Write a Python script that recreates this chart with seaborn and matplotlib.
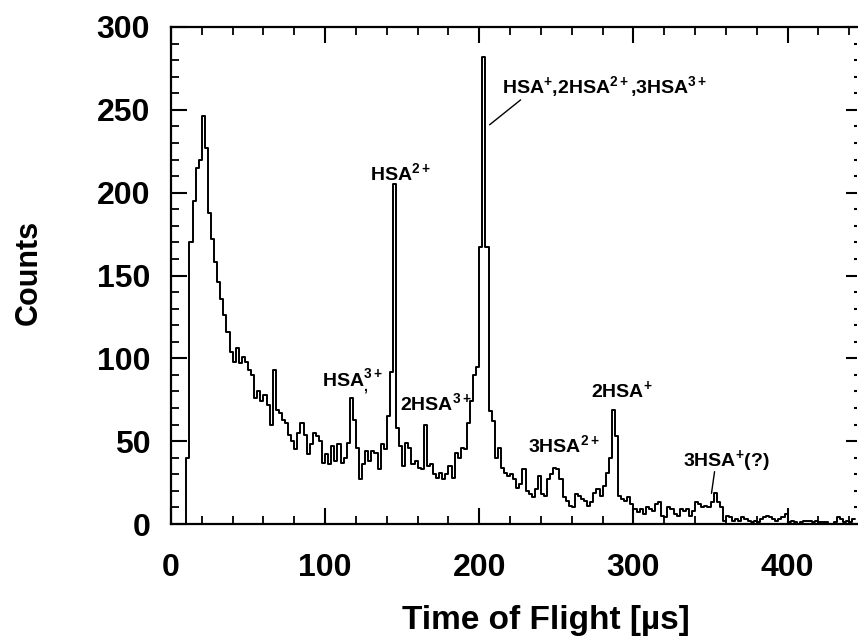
import numpy as np
import pandas as pd
import matplotlib
matplotlib.use("Agg")
import matplotlib.pyplot as plt
import seaborn as sns
from matplotlib.ticker import MultipleLocator

# ---------------- data ----------------
tof_start = 0.0      # µs, left edge of first bin
bin_width = 2.0      # µs
counts = [
    0, 0, 0, 0, 0, 40, 170, 195, 215, 220,          # 0-20
    246, 227, 188, 172, 158, 146, 136, 126, 116, 104,  # 20-40
    98, 106, 97, 101, 98, 93, 90, 76, 80, 74,       # 40-60
    78, 72, 60, 93, 69, 67, 63, 61, 54, 50,         # 60-80
    45, 55, 61, 54, 42, 48, 55, 53, 50, 37,         # 80-100
    42, 36, 47, 38, 48, 37, 40, 49, 76, 63,         # 100-120
    46, 27, 36, 44, 38, 44, 43, 33, 48, 45,         # 120-140
    65, 92, 205, 58, 47, 35, 49, 46, 36, 38,        # 140-160
    34, 33, 60, 35, 36, 30, 28, 31, 27, 30,         # 160-180
    35, 28, 43, 40, 46, 45, 61, 74, 90, 95,         # 180-200
    167, 282, 167, 68, 62, 40, 46, 34, 31, 29,      # 200-220
    30, 27, 22, 24, 33, 20, 18, 16, 21, 29,         # 220-240
    18, 17, 27, 30, 34, 33, 27, 16, 14, 11,         # 240-260
    10, 18, 17, 15, 14, 11, 13, 19, 21, 17,         # 260-280
    23, 31, 40, 69, 53, 17, 15, 14, 16, 12,         # 280-300
    9, 7, 9, 6, 10, 9, 8, 12, 13, 5,                # 300-320
    4, 10, 9, 6, 5, 9, 8, 9, 5, 8,                  # 320-340
    13, 12, 10, 11, 10, 13, 19, 13, 10, 2,          # 340-360
    5, 4, 2, 3, 2, 4, 3, 2, 1, 2,                   # 360-380
    1, 3, 4, 5, 4, 3, 2, 3, 4, 6,                   # 380-400
    1, 2, 1, 0, 1, 2, 2, 2, 1, 2,                   # 400-420
    1, 1, 1, 0, 0, 1, 4, 3, 1, 2,                   # 420-440
    1, 3,                                           # 440-444
]
x_ticks = [0, 100, 200, 300, 400]
y_ticks = [0, 50, 100, 150, 200, 250, 300]
x_label = "Time of Flight [µs]"
y_label = "Counts"

peak_labels = [
    r"$HSA^{2+}$",
    r"$HSA^{+}{,}2HSA^{2+}{,}3HSA^{3+}$",
    r"$HSA^{3+}_{,}$",
    r"$2HSA^{3+}$",
    r"$3HSA^{2+}$",
    r"$2HSA^{+}$",
    r"$3HSA^{+}(?)$",
]
label_x = [129, 215, 97.7, 148.4, 231.6, 272.6, 332]
label_y = [207.6, 260, 82.9, 68.8, 43.6, 76.8, 35]

# leader lines (label end -> peak end)
leaders = [((226.8, 256), (206.7, 241)),
           ((352.6, 31.6), (350.6, 18.5))]

# ---------------- style ----------------
sns.set_theme(style="white")
plt.rcParams["font.family"] = ["Liberation Sans", "DejaVu Sans"]
plt.rcParams["font.weight"] = "bold"
plt.rcParams["axes.edgecolor"] = "black"
plt.rcParams["axes.labelcolor"] = "black"
plt.rcParams["xtick.color"] = "black"
plt.rcParams["ytick.color"] = "black"
plt.rcParams["xtick.labelcolor"] = "black"
plt.rcParams["ytick.labelcolor"] = "black"
plt.rcParams["text.color"] = "black"
plt.rcParams["mathtext.fontset"] = "custom"
plt.rcParams["mathtext.rm"] = "Liberation Sans:bold"
plt.rcParams["mathtext.bf"] = "Liberation Sans:bold"
plt.rcParams["mathtext.it"] = "Liberation Sans:bold"
plt.rcParams["mathtext.default"] = "rm"

W, H = 858, 640
fig = plt.figure(figsize=(W / 100, H / 100), dpi=100)
ax_l, ax_r, ax_t, ax_b = 171, 857, 27, 524
ax = fig.add_axes([ax_l / W, 1 - ax_b / H, (ax_r - ax_l) / W, (ax_b - ax_t) / H])

edges = tof_start + bin_width * np.arange(len(counts) + 1)
centers = edges[:-1] + bin_width / 2
df = pd.DataFrame({"tof": centers, "counts": counts})
sns.histplot(data=df, x="tof", weights="counts", binwidth=bin_width,
             binrange=(float(edges[0]), float(edges[-1])), element="step",
             fill=False, color="black", linewidth=1.4, ax=ax)

ax.set_xlim(0, 445)
ax.set_ylim(0, 300)
ax.set_xticks(x_ticks)
ax.set_yticks(y_ticks)
ax.xaxis.set_minor_locator(MultipleLocator(20))
ax.yaxis.set_minor_locator(MultipleLocator(10))

for s in ["left", "bottom", "top"]:
    ax.spines[s].set_linewidth(1.6)
    ax.spines[s].set_color("black")
ax.spines["right"].set_visible(False)

ax.tick_params(which="both", direction="in", top=True, bottom=True,
               left=True, right=False)
ax.tick_params(which="major", length=11.5, width=1.5)
ax.tick_params(which="minor", length=6, width=1.3)
ax.tick_params(axis="x", labelsize=23, pad=21)
ax.tick_params(axis="y", labelsize=23, pad=15)

sec = ax.secondary_yaxis("right")
sec.set_yticks(y_ticks)
sec.yaxis.set_minor_locator(MultipleLocator(10))
sec.tick_params(which="both", direction="in", labelright=False)
sec.tick_params(which="major", length=8, width=1.5)
sec.tick_params(which="minor", length=2, width=1.5)
sec.spines["right"].set_visible(False)

ax.set_xlabel(x_label, fontsize=24, fontweight="bold")
ax.set_ylabel(y_label, fontsize=22, fontweight="bold")
ax.xaxis.set_label_coords(0.546, -0.163)
ax.yaxis.set_label_coords(-0.185, 0.507)

for txt, x, y in zip(peak_labels, label_x, label_y):
    ax.text(x, y, txt, fontsize=14, ha="left", va="baseline")

for (p0, p1) in leaders:
    ax.annotate("", xy=p1, xytext=p0,
                arrowprops=dict(arrowstyle="-", lw=1.0, color="black",
                                shrinkA=0, shrinkB=0))

fig.savefig("out.png", dpi=100)
